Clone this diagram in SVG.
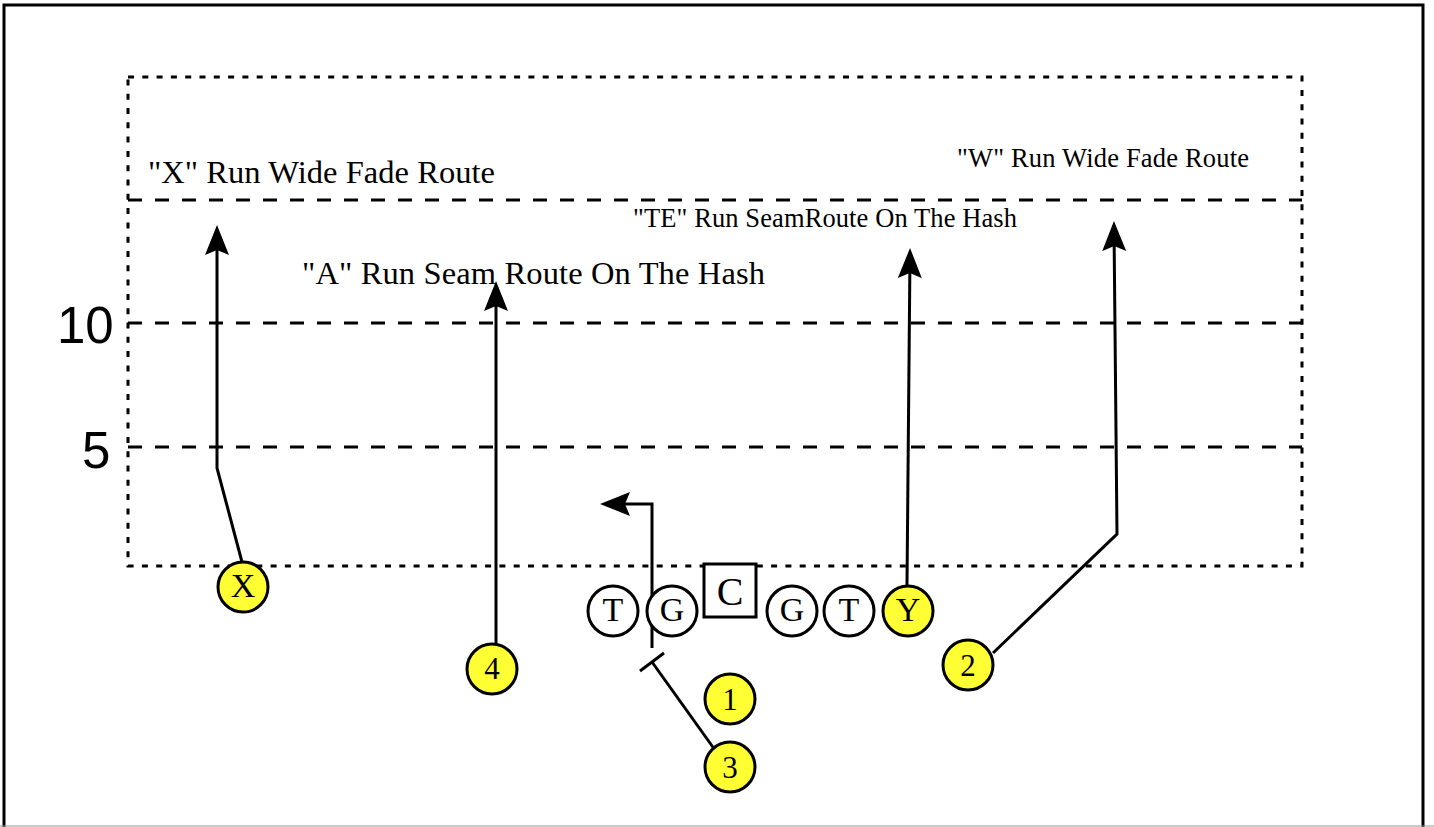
<svg xmlns="http://www.w3.org/2000/svg" width="1434" height="827" viewBox="0 0 1434 827">
<style>
.frame{fill:none;stroke:#000;stroke-width:3}
.dot{fill:none;stroke:#000;stroke-width:3;stroke-dasharray:6 8.3}
.dash{fill:none;stroke:#000;stroke-width:3;stroke-dasharray:14 13}
.route{fill:none;stroke:#000;stroke-width:3;stroke-linejoin:miter}
.lbl{font-family:"Liberation Serif","Times New Roman",serif;fill:#000}
.yard{font-family:"Liberation Sans",Arial,sans-serif;font-size:51px;fill:#000}
.p{stroke:#000;stroke-width:3}
.off{fill:#ffffff}
.sk{fill:#ffff33}
.pt{font-family:"Liberation Serif","Times New Roman",serif;fill:#000;text-anchor:middle}
</style>
<defs>
<marker id="ah" markerUnits="userSpaceOnUse" viewBox="0 -13 31 26" refX="24" refY="0" markerWidth="31" markerHeight="26" orient="auto">
<path d="M0,-12 L30,0 L0,12 L5,0 Z" fill="#000"/>
</marker>
</defs>
<rect width="1434" height="827" fill="#fff"/>
<g id="frame">
<path class="frame" d="M4,827 V5 H1423 V827"/>
<line x1="0" y1="826" x2="1434" y2="826" stroke="#999" stroke-width="1"/>
</g>
<g id="field">
<rect class="dot" x="128" y="77" width="1174" height="489"/>
<line class="dash" x1="128" y1="200" x2="1302" y2="200"/>
<line class="dash" x1="128" y1="323" x2="1302" y2="323"/>
<line class="dash" x1="128" y1="447" x2="1302" y2="447"/>
<text class="yard" x="57" y="343">10</text>
<text class="yard" x="82" y="468">5</text>
</g>
<g id="labels">
<text class="lbl" x="148" y="183" font-size="32.5" textLength="347" lengthAdjust="spacing">"X" Run Wide Fade Route</text>
<text class="lbl" x="302" y="284" font-size="32.5" textLength="463" lengthAdjust="spacing">"A" Run Seam Route On The Hash</text>
<text class="lbl" x="633" y="227" font-size="26.5" textLength="384" lengthAdjust="spacing">"TE" Run SeamRoute On The Hash</text>
<text class="lbl" x="957" y="167" font-size="26.5" textLength="292" lengthAdjust="spacing">"W" Run Wide Fade Route</text>
</g>
<g id="connectors">
<path class="route" d="M242,562 L217,468 L217,231" marker-end="url(#ah)"/>
<path class="route" d="M496,643 L496,287" marker-end="url(#ah)"/>
<path class="route" d="M907,585 L910,254" marker-end="url(#ah)"/>
<path class="route" d="M993,653 L1117,534 L1114,227" marker-end="url(#ah)"/>
<path class="route" d="M652,648 L652,504 L606,504" marker-end="url(#ah)"/>
<path class="route" d="M715,750 L652,662"/>
<path class="route" d="M640,671 L664,653"/>
</g>
<g id="node-X"><circle class="p sk" cx="243" cy="587" r="25"/><text class="pt" x="243" y="597" font-size="34">X</text></g>
<g id="node-4"><circle class="p sk" cx="492" cy="669" r="25"/><text class="pt" x="492" y="679" font-size="31">4</text></g>
<g id="node-T1"><circle class="p off" cx="613" cy="611" r="25"/><text class="pt" x="613" y="621" font-size="34">T</text></g>
<g id="node-G1"><circle class="p off" cx="672" cy="611" r="25"/><text class="pt" x="672" y="621" font-size="34">G</text></g>
<g id="node-C"><rect class="p off" x="704" y="564" width="52" height="53"/><text class="pt" x="730" y="605" font-size="40">C</text></g>
<g id="node-G2"><circle class="p off" cx="792" cy="611" r="25"/><text class="pt" x="792" y="621" font-size="34">G</text></g>
<g id="node-T2"><circle class="p off" cx="849" cy="611" r="25"/><text class="pt" x="849" y="621" font-size="34">T</text></g>
<g id="node-Y"><circle class="p sk" cx="908" cy="611" r="25"/><text class="pt" x="908" y="621" font-size="34">Y</text></g>
<g id="node-1"><circle class="p sk" cx="730" cy="699" r="25"/><text class="pt" x="730" y="710" font-size="31">1</text></g>
<g id="node-3"><circle class="p sk" cx="730" cy="767" r="25"/><text class="pt" x="730" y="778" font-size="31">3</text></g>
<g id="node-2"><circle class="p sk" cx="968" cy="665" r="25"/><text class="pt" x="968" y="676" font-size="31">2</text></g>
</svg>
